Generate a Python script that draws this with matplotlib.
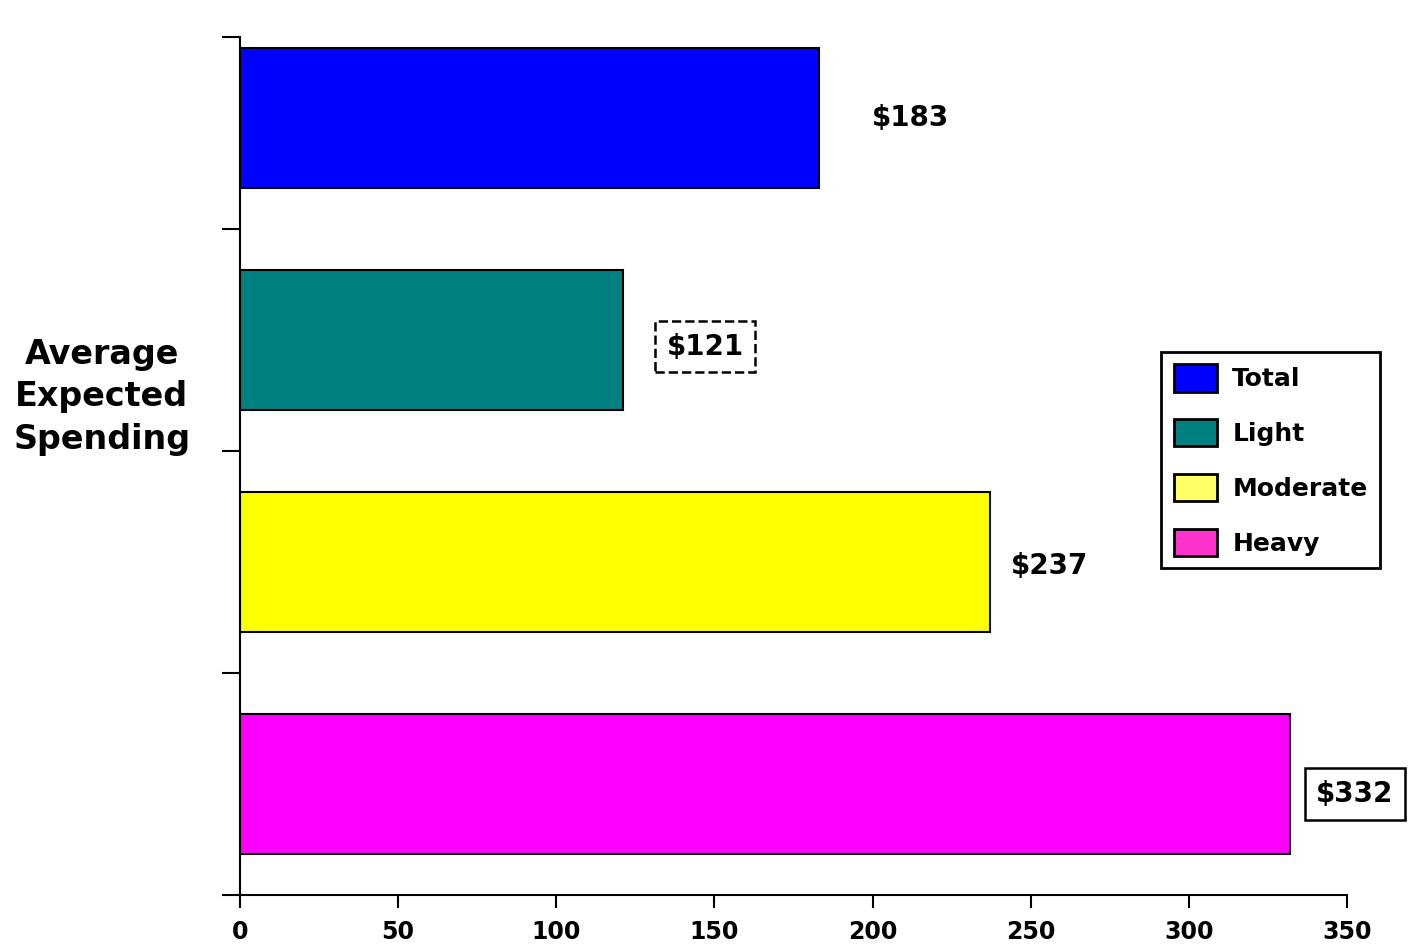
import matplotlib.pyplot as plt
from matplotlib.patches import Patch

# spending per user group
groups = ['Total', 'Light', 'Moderate', 'Heavy']
spending = [183, 121, 237, 332]
bar_colors = ['#0000FF', '#008080', '#FFFF00', '#FF00FF']
legend_colors = ['#0000FF', '#008080', '#FFFF66', '#FF33CC']
xticks = [0, 50, 100, 150, 200, 250, 300, 350]

# where the value labels sit (data x, y offset) and their box style
label_x = [212, 147, 256, 352.5]
label_dy = [0.0, -0.03, -0.02, -0.045]
label_box = [None, 'dashed', None, 'solid']

fig = plt.figure(figsize=(14.15, 9.47), dpi=100)
ax = fig.add_axes([0.1696, 0.0549, 0.7824, 0.9061])

ypos = [3, 2, 1, 0]
ax.barh(ypos, spending, height=0.63, color=bar_colors, edgecolor='black', linewidth=1.5)

for i in range(len(groups)):
    kw = dict(ha='center', va='center', fontsize=20, fontweight='bold', clip_on=False)
    if label_box[i] is not None:
        kw['bbox'] = dict(boxstyle='square,pad=0.42', facecolor='white', edgecolor='black',
                          linewidth=1.8, linestyle=label_box[i])
    ax.text(label_x[i], ypos[i] + label_dy[i], '$' + str(spending[i]), **kw)

ax.set_xlim(0, 350)
top = -0.5 + (895 - 37) / 222.0
ax.set_ylim(-0.5, top)
ax.set_xticks(xticks)
ax.set_xticklabels([str(t) for t in xticks], fontsize=17, fontweight='bold')
ax.set_yticks([-0.5, 0.5, 1.5, 2.5, top])
ax.set_yticklabels([])
ax.tick_params(axis='y', direction='out', length=13, width=1.5)
ax.tick_params(axis='x', direction='out', length=9, width=1.5, pad=9)

for s in ['top', 'right']:
    ax.spines[s].set_visible(False)
for s in ['left', 'bottom']:
    ax.spines[s].set_linewidth(1.5)

fig.text(0.072, 0.581, 'Average\nExpected\nSpending', ha='center', va='center',
         fontsize=24, fontweight='bold', linespacing=1.37)

handles = [Patch(facecolor=c, edgecolor='black', linewidth=2) for c in legend_colors]
leg = ax.legend(handles, groups, loc='upper left', bbox_to_anchor=(0.832, 0.633),
                borderaxespad=0, prop={'size': 18, 'weight': 'bold'}, frameon=True,
                fancybox=False, framealpha=1, handlelength=1.75, handleheight=1.3,
                handletextpad=0.6, labelspacing=1.1, borderpad=0.5)
leg.get_frame().set_edgecolor('black')
leg.get_frame().set_linewidth(2)

fig.savefig('out.png', dpi=100)
